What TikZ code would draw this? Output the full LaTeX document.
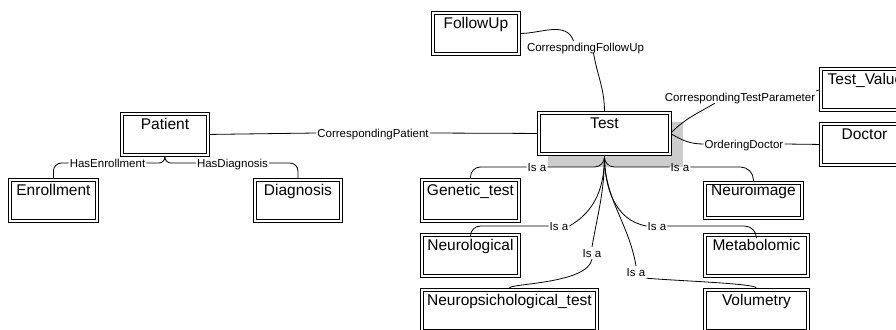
\documentclass[tikz,border=0pt]{standalone}
\usepackage{fontspec}
\setmainfont{Liberation Sans}
\usepackage{tikz}
\usetikzlibrary{backgrounds}
\definecolor{selgray}{HTML}{CCCCCC}
\newcommand{\entfont}{\fontsize{15.5bp}{18bp}\selectfont}
\newcommand{\relfont}{\fontsize{11.5bp}{13bp}\selectfont}
\tikzset{
  entity/.style={draw, double, double distance=1.8bp, line width=0.9bp, fill=white, anchor=north west, inner sep=2bp, minimum height=41bp, text height=13.5bp, text depth=23.5bp, font=\entfont},
  rel/.style={inner sep=1bp, text height=9bp, text depth=1bp, font=\relfont},
  link/.style={line width=0.8bp, shorten <=1.5bp},
  selshadow/.style={fill=selgray}
}
\begin{document}
\begin{tikzpicture}[x=1bp, y=-1bp]
  \useasboundingbox (0,0) rectangle (896,329);
  \clip (0,0) rectangle (896,329);
  % classes
  \node[entity, minimum width=86bp] (patient) at (121.5,113.5) {Patient};
  \node[entity, minimum width=87bp] (enroll) at (9.5,179.5) {Enrollment};
  \node[entity, minimum width=86bp] (diag) at (254.5,179.5) {Diagnosis};
  \node[entity, minimum width=86bp] (followup) at (432.5,12.5) {FollowUp};
  \node[entity, minimum width=131bp] (test) at (538.5,112.5) {Test};
  \node[entity, minimum width=89bp] (tval) at (820.5,68.5) {Test\_Value};
  \node[entity, minimum width=87bp] (doctor) at (820.5,123.5) {Doctor};
  \node[entity, minimum width=97bp] (genetic) at (421.5,179.5) {Genetic\_test};
  \node[entity, minimum width=97bp] (neuro) at (421.5,234.5) {Neurological};
  \node[entity, minimum width=175bp] (neuropsi) at (421.5,289.5) {Neuropsichological\_test};
  \node[entity, minimum width=97bp, minimum height=35.3bp, text height=10.5bp, text depth=20.8bp] (nimage) at (704.5,182.5) {Neuroimage};
  \node[entity, minimum width=103bp] (metab) at (704.5,234.5) {Metabolomic};
  \node[entity, minimum width=103bp] (volum) at (704.5,289.5) {Volumetry};
  \begin{scope}[on background layer]
    \fill[selshadow] ([shift={(9.5,9.5)}]test.north west) rectangle ([shift={(12.5,12.5)}]test.south east);
  \end{scope}
  % relation labels
  \node[rel] (corrpat) at (373,133) {CorrespondingPatient};
  \node[rel] (hasenr) at (107.5,163) {HasEnrollment};
  \node[rel] (hasdiag) at (232.5,163) {HasDiagnosis};
  \node[rel] (cfu) at (585.5,47) {CorrespndingFollowUp};
  \node[rel] (ctp) at (740,97) {CorrespondingTestParameter};
  \node[rel] (odoc) at (744,144) {OrderingDoctor};
  \node[rel] (isa1) at (537,167) {Is a};
  \node[rel] (isa2) at (680,167) {Is a};
  \node[rel] (isa3) at (559,226) {Is a};
  \node[rel] (isa4) at (657,226) {Is a};
  \node[rel] (isa5) at (592,253) {Is a};
  \node[rel] (isa6) at (636,272) {Is a};
  % links
  \draw[link] (patient.east) -- (corrpat.west);
  \draw[link] (test.west) -- (corrpat.east);
  \draw[link, rounded corners=6bp] (patient.south) |- (hasenr.east);
  \draw[link, rounded corners=8bp] (enroll.north) |- (hasenr.west);
  \draw[link, rounded corners=6bp] (patient.south) |- (hasdiag.west);
  \draw[link, rounded corners=8bp] (diag.north) |- (hasdiag.east);
  \draw[link] (test.north) to[out=90,in=-80] ([xshift=8bp]cfu.south);
  \draw[link] (followup.east) to[out=0,in=110] ([xshift=-12bp]cfu.north);
  \draw[link] (test.east) to[out=45,in=-150] ([xshift=-25bp]ctp.south);
  \draw[link] (tval.west) -- (ctp.north east);
  \draw[link] (test.east) to[out=-30,in=180] (odoc.west);
  \draw[link] (doctor.west) -- (odoc.east);
  \draw[link, rounded corners=10bp] (test.south) |- (isa1.east);
  \draw[link, rounded corners=10bp] (genetic.north) |- (isa1.west);
  \draw[link, rounded corners=10bp] (test.south) |- (isa2.west);
  \draw[link, rounded corners=13bp] (nimage.north) |- (isa2.east);
  \draw[link] (test.south) to[out=-90,in=30] (isa3.east);
  \draw[link, rounded corners=10bp] (neuro.north) |- (isa3.west);
  \draw[link] (test.south) to[out=-90,in=170] (isa4.west);
  \draw[link, rounded corners=12bp] (metab.north) |- (isa4.east);
  \draw[link] (test.south) to[out=-90,in=80] (isa5.north);
  \draw[link] (neuropsi.north) to[out=90,in=-100,out distance=6bp,in distance=25bp] (isa5.south);
  \draw[link] (test.south) to[out=-90,in=100] (isa6.north);
  \draw[link] (volum.north) to[out=90,in=-5,out distance=6bp,in distance=30bp] (isa6.south east);
\end{tikzpicture}
\end{document}
